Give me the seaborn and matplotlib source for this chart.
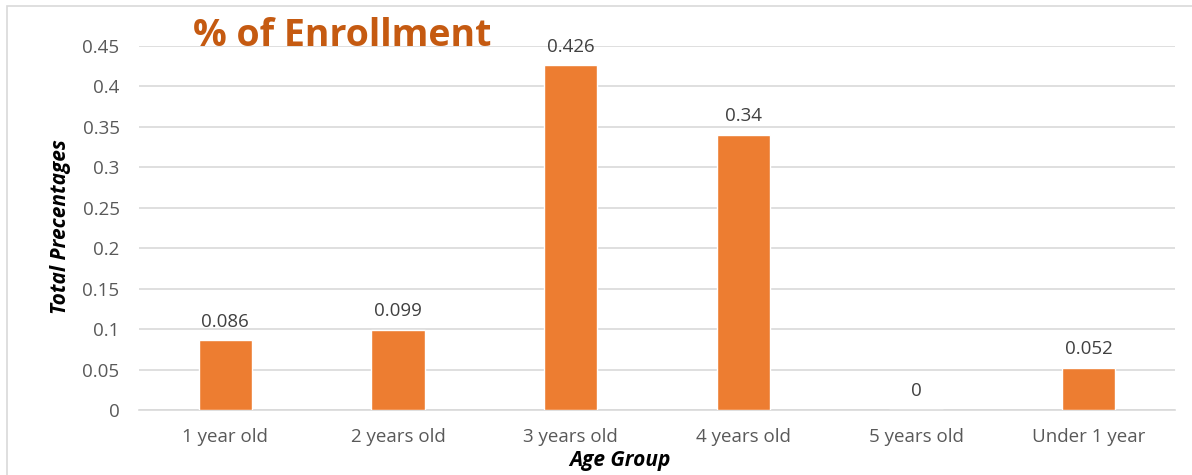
import matplotlib
matplotlib.use("Agg")
import matplotlib.pyplot as plt
from matplotlib.patches import Rectangle
import seaborn as sns
import pandas as pd

# Enrollment share by age group
age_groups = ["1 year old", "2 years old", "3 years old", "4 years old", "5 years old", "Under 1 year"]
shares = [0.086, 0.099, 0.426, 0.34, 0.0, 0.052]
value_labels = ["0.086", "0.099", "0.426", "0.34", "0", "0.052"]
y_ticks = [0, 0.05, 0.1, 0.15, 0.2, 0.25, 0.3, 0.35, 0.4, 0.45]
y_tick_labels = ["0", "0.05", "0.1", "0.15", "0.2", "0.25", "0.3", "0.35", "0.4", "0.45"]

df = pd.DataFrame({"Age Group": age_groups, "Share": shares})

sns.set_theme(style="white")
plt.rcParams["font.family"] = ["Open Sans", "DejaVu Sans"]

W, H = 1192, 475
fig = plt.figure(figsize=(W / 100, H / 100), dpi=100)
ax = fig.add_axes([139 / W, 1 - 410 / H, (1175 - 139) / W, (410 - 46) / H])

bar_color = "#ED7D31"
sns.barplot(data=df, x="Age Group", y="Share", color=bar_color, width=0.31,
            saturation=1, ax=ax, zorder=3)

ax.set_ylim(0, 0.45)
ax.set_xlim(-0.5, len(age_groups) - 0.5)
ax.set_yticks(y_ticks)
ax.set_yticklabels(y_tick_labels)
ax.grid(axis="y", color="#D9D9D9", linewidth=1.2, zorder=0)
ax.grid(axis="x", visible=False)
for side in ["top", "right", "left"]:
    ax.spines[side].set_visible(False)
ax.spines["bottom"].set_color("#D9D9D9")
ax.spines["bottom"].set_linewidth(1.2)
ax.tick_params(axis="both", length=0, labelsize=13.5, labelcolor="#595959")
ax.tick_params(axis="y", pad=14)
ax.tick_params(axis="x", pad=13)

ax.bar_label(ax.containers[0], labels=value_labels, padding=7,
             fontsize=13.5, color="#404040")

ax.set_xlabel("Age Group", fontsize=15, fontweight="bold", style="italic", color="black")
ax.set_ylabel("Total Precentages", fontsize=15, fontweight="bold", style="italic", color="black")
ax.xaxis.set_label_coords((620 - 139) / 1036, (410 - 450) / 364)
ax.yaxis.set_label_coords((71 - 139) / 1036, (410 - 227) / 364)

fig.text(342 / W, 1 - 36 / H, "% of Enrollment", fontsize=27, fontweight="bold",
         color="#C55A11", ha="center", va="center")

# light frame around the chart area
fig.patches.append(Rectangle((7 / W, -0.01), 1.02, 1 - 6 / H + 0.01,
                             transform=fig.transFigure, fill=False,
                             edgecolor="#D9D9D9", linewidth=1.2, zorder=0))

fig.savefig("out.png", dpi=100, facecolor="white")
